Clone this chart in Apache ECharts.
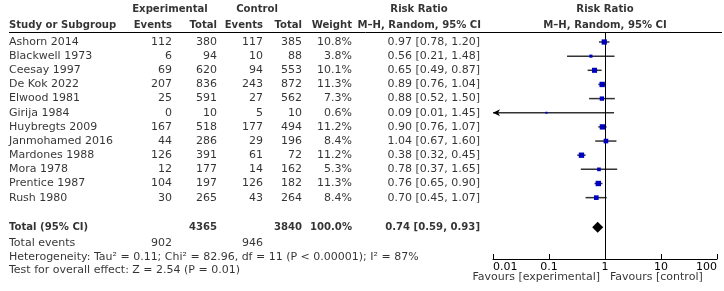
<!DOCTYPE html>
<html>
<head>
<meta charset="utf-8">
<script src="https://cdn.jsdelivr.net/npm/echarts@6/dist/echarts.min.js"></script>
<style>
  html, body { margin: 0; padding: 0; background: #fff; }
  #chart { width: 724px; height: 291px; }
</style>
</head>
<body>
<div id="chart"></div>
<script>
// study rows
const studies    = ['Ashorn 2014', 'Blackwell 1973', 'Ceesay 1997', 'De Kok 2022', 'Elwood 1981', 'Girija 1984',
                    'Huybregts 2009', 'Janmohamed 2016', 'Mardones 1988', 'Mora 1978', 'Prentice 1987', 'Rush 1980']
const expEvents  = [112, 6, 69, 207, 25, 0, 167, 44, 126, 12, 104, 30]
const expTotal   = [380, 94, 620, 836, 591, 10, 518, 286, 391, 177, 197, 265]
const ctrlEvents = [117, 10, 94, 243, 27, 5, 177, 29, 61, 14, 126, 43]
const ctrlTotal  = [385, 88, 553, 872, 562, 10, 494, 196, 72, 162, 182, 264]
const weights    = [10.8, 3.8, 10.1, 11.3, 7.3, 0.6, 11.2, 8.4, 11.2, 5.3, 11.3, 8.4]
const rr         = [0.97, 0.56, 0.65, 0.89, 0.88, 0.09, 0.90, 1.04, 0.38, 0.78, 0.76, 0.70]
const rrLow      = [0.78, 0.21, 0.49, 0.76, 0.52, 0.01, 0.76, 0.67, 0.32, 0.37, 0.65, 0.45]
const rrHigh     = [1.20, 1.48, 0.87, 1.04, 1.50, 1.45, 1.07, 1.60, 0.45, 1.65, 0.90, 1.07]

// pooled result
const totalN      = [4365, 3840]
const totalEvents = [902, 946]
const pooled      = [0.74, 0.59, 0.93]
const hetText     = 'Heterogeneity: Tau\u00b2 = 0.11; Chi\u00b2 = 82.96, df = 11 (P < 0.00001); I\u00b2 = 87%'
const effectText  = 'Test for overall effect: Z = 2.54 (P = 0.01)'
const tickLabels  = ['0.01', '0.1', '1', '10', '100']

//** layout */
const ROW0 = 42, ROW_H = 14.15
const rowOf = y => (y - ROW0) / ROW_H
const R_TOTAL = 13.1, R_EVENTS = 14.2, R_HET = 15.2, R_TEST = 16.15, R_H1 = -2.3, R_H2 = -1.2, R_FAV = 16.65
const COL = { study: 9, expE: 172, expT: 217, ctlE: 263, ctlT: 302, weight: 352, rr: 480 }
const FONT = 'DejaVu Sans'
const fmt = v => v.toFixed(2)
const ciText = i => `${fmt(rr[i])} [${fmt(rrLow[i])}, ${fmt(rrHigh[i])}]`

function textSeries(points, align, bold, extra) {
  return Object.assign({
    type: 'scatter',
    xAxisIndex: 0,
    yAxisIndex: 0,
    symbolSize: 0,
    silent: true,
    z: 10,
    label: {
      show: true,
      position: 'inside',
      align,
      verticalAlign: 'middle',
      color: '#000',
      fontFamily: FONT,
      fontSize: bold ? 10.1 : 11,
      fontWeight: bold ? 'bold' : 'normal',
      formatter: p => p.data[2]
    },
    data: points
  }, extra || {})
}

const rows = studies.map((s, i) => i)

const series = [
  // header line
  textSeries([], 'left', false, {
    markLine: {
      silent: true,
      symbol: 'none',
      label: { show: false },
      lineStyle: { color: '#000', width: 1, type: 'solid' },
      data: [[{ coord: [COL.study, rowOf(32)] }, { coord: [722, rowOf(32)] }]]
    }
  }),
  // left aligned texts
  textSeries([
    ...rows.map(i => [COL.study, i, studies[i]]),
    [COL.study, R_EVENTS, 'Total events'],
    [COL.study, R_HET, hetText],
    [COL.study, R_TEST, effectText],
    [610, R_FAV, 'Favours [control]'],
  ], 'left', false),
  // right aligned numbers
  textSeries([
    ...rows.map(i => [COL.expE, i, String(expEvents[i])]),
    ...rows.map(i => [COL.expT, i, String(expTotal[i])]),
    ...rows.map(i => [COL.ctlE, i, String(ctrlEvents[i])]),
    ...rows.map(i => [COL.ctlT, i, String(ctrlTotal[i])]),
    ...rows.map(i => [COL.weight, i, weights[i].toFixed(1) + '%']),
    ...rows.map(i => [COL.rr, i, ciText(i)]),
    [COL.expE, R_EVENTS, String(totalEvents[0])],
    [COL.ctlE, R_EVENTS, String(totalEvents[1])],
    [600, R_FAV, 'Favours [experimental]'],
  ], 'right', false),
  // bold headers / totals
  textSeries([
    [COL.study, R_H2, 'Study or Subgroup'],
    [COL.study, R_TOTAL, 'Total (95% CI)'],
  ], 'left', true),
  textSeries([
    [COL.expE, R_H2, 'Events'],
    [COL.expT, R_H2, 'Total'],
    [COL.ctlE, R_H2, 'Events'],
    [COL.ctlT, R_H2, 'Total'],
    [COL.weight, R_H2, 'Weight'],
    [COL.rr + 1, R_H2, 'M\u2013H, Random, 95% CI'],
    [COL.expT, R_TOTAL, String(totalN[0])],
    [COL.ctlT, R_TOTAL, String(totalN[1])],
    [COL.weight, R_TOTAL, '100.0%'],
    [COL.rr, R_TOTAL, `${fmt(pooled[0])} [${fmt(pooled[1])}, ${fmt(pooled[2])}]`],
  ], 'right', true),
  textSeries([
    [170, R_H1, 'Experimental'],
    [257, R_H1, 'Control'],
    [419, R_H1, 'Risk Ratio'],
    [605, R_H1, 'Risk Ratio'],
    [605, R_H2, 'M\u2013H, Random, 95% CI'],
  ], 'center', true),

  // confidence intervals
  {
    type: 'custom',
    xAxisIndex: 1,
    yAxisIndex: 1,
    silent: true,
    encode: { x: [0, 1], y: 2 },
    data: rows.map(i => [rrLow[i], rrHigh[i], i]),
    renderItem(params, api) {
      const lo = Math.max(api.value(0), 0.01)
      const p1 = api.coord([lo, api.value(2)])
      const p2 = api.coord([api.value(1), api.value(2)])
      const style = { stroke: '#333', lineWidth: 1.5 }
      const children = [{ type: 'line', shape: { x1: p1[0], y1: p1[1], x2: p2[0], y2: p2[1] }, style }]
      if (api.value(0) <= 0.01) {
        children.push({
          type: 'polygon',
          shape: { points: [[p1[0], p1[1]], [p1[0] + 7, p1[1] - 3.5], [p1[0] + 5, p1[1]], [p1[0] + 7, p1[1] + 3.5]] },
          style: { fill: '#000' }
        })
      }
      return { type: 'group', children }
    }
  },
  // study squares + line of no effect
  {
    type: 'scatter',
    xAxisIndex: 1,
    yAxisIndex: 1,
    silent: true,
    symbol: 'rect',
    z: 5,
    itemStyle: { color: '#0000c0', opacity: 1 },
    symbolSize: v => Math.max(2, Math.sqrt(v[2]) * 1.6),
    data: rows.map(i => [rr[i], i, weights[i]]),
    markLine: {
      silent: true,
      symbol: 'none',
      label: { show: false },
      lineStyle: { color: '#000', width: 1, type: 'solid' },
      data: [{ xAxis: 1 }]
    }
  },
  // pooled diamond
  {
    type: 'custom',
    xAxisIndex: 1,
    yAxisIndex: 1,
    silent: true,
    z: 6,
    encode: { x: [0, 1, 2], y: 3 },
    data: [[pooled[0], pooled[1], pooled[2], R_TOTAL]],
    renderItem(params, api) {
      const r = api.value(3)
      const c = api.coord([api.value(0), r])
      const l = api.coord([api.value(1), r])
      const h = api.coord([api.value(2), r])
      return {
        type: 'polygon',
        shape: { points: [[l[0], l[1]], [c[0], c[1] - 5.5], [h[0], h[1]], [c[0], c[1] + 5.5]] },
        style: { fill: '#000' }
      }
    }
  }
]

const opt = {
  backgroundColor: '#fff',
  animation: false,
  textStyle: { fontFamily: FONT },
  grid: [
    { left: 0, top: 0, width: 724, height: 291, containLabel: false, outerBoundsMode: 'none' },
    { left: 493, right: 7, top: 32, bottom: 32, containLabel: false, outerBoundsMode: 'none' }
  ],
  xAxis: [
    { gridIndex: 0, type: 'value', min: 0, max: 724, show: false },
    {
      gridIndex: 1,
      type: 'log',
      logBase: 10,
      min: 0.01,
      max: 100,
      position: 'bottom',
      splitLine: { show: false },
      minorTick: { show: false },
      axisLine: { show: true, onZero: false, lineStyle: { color: '#000', width: 1 } },
      axisTick: { show: true, inside: true, length: 5, lineStyle: { color: '#000', width: 1 } },
      axisLabel: {
        color: '#000',
        fontFamily: FONT,
        fontSize: 11,
        margin: 3,
        alignMinLabel: 'left',
        alignMaxLabel: 'right',
        formatter: v => tickLabels.find(t => Math.abs(Math.log10(+t) - Math.log10(v)) < 1e-6) || ''
      }
    }
  ],
  yAxis: [
    { gridIndex: 0, type: 'value', inverse: true, min: rowOf(0), max: rowOf(291), show: false },
    { gridIndex: 1, type: 'value', inverse: true, min: rowOf(32), max: rowOf(259), show: false }
  ],
  series
}

const chart = echarts.init(document.getElementById('chart'), null, { renderer: 'canvas' })
chart.setOption(opt)
</script>
</body>
</html>
